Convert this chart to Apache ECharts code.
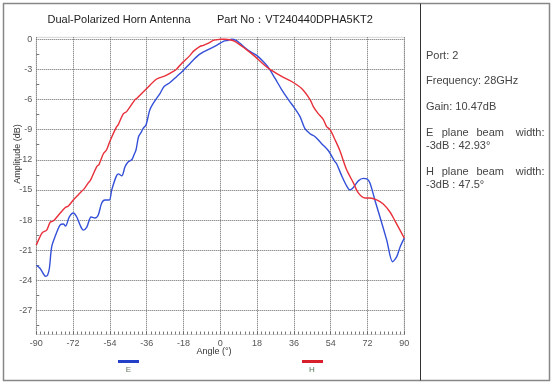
<!DOCTYPE html>
<html>
<head>
<meta charset="utf-8">
<script src="https://cdn.jsdelivr.net/npm/echarts@6/dist/echarts.min.js"></script>
<style>
html,body{margin:0;padding:0;background:#fff;}
#chart{width:554px;height:383px;}
</style>
</head>
<body>
<div id="chart"></div>
<script>
// ---- Data ----
const eAngles = [-90,-88.2,-86.7,-85.5,-84.5,-83.6,-82.5,-80.9,-78.4,-76.8,-75.7,-73.9,-71.9,-70.2,-68.6,-67.0,-65.3,-63.2,-61.3,-59.7,-58.0,-56.4,-54.3,-53.1,-51.0,-49.9,-48.2,-46.6,-45.0,-43.3,-42.2,-41.2,-40.0,-38.8,-37.8,-36.3,-34.4,-31.9,-29.5,-27.5,-24.6,-21.3,-18.1,-14.8,-10.8,-6.7,-1.8,1.5,3.8,5.6,7.7,9.6,13.7,17.8,21.0,23.5,26.8,30.0,33.3,36.5,39.0,41.4,43.9,46.4,49.6,52.9,55.8,56.9,59.4,61.8,63.4,65.1,67.5,69.9,71.7,73.2,75.6,78.1,81.4,84.3,86.3,87.9,90];
const eValues = [-22.5,-22.8,-23.3,-23.6,-23.5,-22.8,-20.7,-19.7,-18.5,-18.4,-18.6,-17.7,-17.3,-17.7,-18.5,-19.0,-18.7,-17.7,-17.8,-17.5,-16.3,-16.0,-16.0,-15.0,-13.7,-13.4,-13.6,-12.7,-12.2,-12.0,-11.5,-11.0,-9.7,-9.3,-8.9,-8.5,-7.0,-6.1,-5.4,-4.7,-4.3,-3.7,-3.1,-2.4,-1.6,-1.1,-0.6,-0.2,-0.1,0,-0.1,-0.4,-1.1,-1.6,-2.2,-2.8,-3.9,-5.0,-6.0,-6.9,-7.7,-8.9,-9.4,-9.7,-10.4,-11.1,-12.1,-12.4,-13.6,-14.6,-15.0,-14.75,-14.1,-13.85,-13.9,-14.3,-16.0,-17.7,-20.0,-22.15,-21.65,-20.7,-19.8];

const hAngles = [-90,-88.5,-87.0,-84.9,-83.2,-81.7,-78.7,-75.8,-74.3,-71.9,-68.6,-66.4,-64.6,-63.4,-60.5,-59.3,-57.2,-55.6,-53.9,-50.7,-49.9,-47.4,-45.8,-41.7,-40.9,-36.0,-31.1,-27.0,-23.0,-21.3,-18.9,-17.3,-14.8,-13.2,-9.9,-8.3,-5.0,-3.4,-1.8,0,2.3,4.7,7.1,12.0,16.9,21.8,25.1,30.0,34.9,39.8,43.9,45.5,47.9,50.4,52.0,53.7,56.1,58.5,61.8,65.1,67.5,70.8,73.2,76.5,79.7,83.0,85.5,87.9,90];
const hValues = [-20.5,-19.8,-19.25,-19.0,-18.2,-18.1,-17.4,-16.75,-16.6,-16.0,-15.3,-14.85,-14.3,-14.0,-12.7,-12.45,-11.4,-11.0,-10.1,-8.7,-8.5,-7.4,-7.2,-6.0,-5.9,-4.9,-3.95,-3.65,-3.2,-2.95,-2.4,-2.1,-1.6,-1.2,-0.7,-0.6,-0.3,-0.1,-0.05,0,0,-0.05,-0.2,-0.9,-1.7,-2.6,-3.1,-3.7,-4.2,-4.9,-6.0,-6.7,-7.4,-8.0,-8.7,-9.0,-10.0,-11.1,-13.0,-14.3,-15.3,-15.8,-15.8,-16.0,-16.4,-17.2,-18.1,-19.0,-19.8];

const yTickValues = [0,-3,-6,-9,-12,-15,-18,-21,-24,-27];
const yMinorTickValues = [-1.5,-4.5,-7.5,-10.5,-13.5,-16.5,-19.5,-22.5,-25.5,-28.5];

const seriesNames = ['E','H'];
const titleText = 'Dual-Polarized Horn Antenna';
const partText = 'Part No：VT240440DPHA5KT2';
const xAxisName = 'Angle (°)';
const yAxisName = 'Amplitude (dB)';
const infoPort = 'Port: 2';
const infoFreq = 'Frequency: 28GHz';
const infoGain = 'Gain: 10.47dB';
const infoEWords = ['E','plane','beam','width:'];
const infoEValue = '-3dB : 42.93°';
const infoHWords = ['H','plane','beam','width:'];
const infoHValue = '-3dB : 47.5°';

function pairs(xs, ys){ return xs.map((x,i)=>[x, ys[i]]); }

const FONT = '"Liberation Sans", Arial, sans-serif';
const chart = echarts.init(document.getElementById('chart'), null, {renderer:'canvas'});

function txt(text, x, y, opts){
  return {
    type:'text', x:x, y:y, silent:true,
    style:Object.assign({text:text, fill:'#333', font:'11px ' + FONT, textAlign:'left', textVerticalAlign:'middle'}, (opts||{}))
  };
}
function wordsLine(words, xs, y){
  return words.map((w,i)=>txt(w, xs[i], y, {fill:'#444', textAlign: i===words.length-1?'right':'left'}));
}

const gridLeft = 36.3, gridTop = 37.3, gridRight = 554-404.3, gridBottom = 383-334.5;

const option = {
  animation:false,
  backgroundColor:'#fff',
  grid:{left:gridLeft, top:gridTop, right:gridRight, bottom:gridBottom, show:true, borderColor:'#d4d4d4', borderWidth:1, containLabel:false},
  xAxis:{
    type:'value', min:-90, max:90, interval:18,
    axisLine:{show:false, onZero:false},
    axisTick:{show:true, inside:true, length:3, lineStyle:{color:'#666'}},
    minorTick:{show:true, splitNumber:9, length:3, lineStyle:{color:'#777'}},
    axisLabel:{fontSize:9, color:'#555', margin:5, fontFamily:FONT},
    splitLine:{show:true, lineStyle:{color:'#666', width:1, type:[1,1]}}
  },
  yAxis:[{
    type:'value', min:-29.4, max:0.2,
    axisLine:{show:false, onZero:false},
    axisTick:{show:false, customValues:yTickValues},
    axisLabel:{fontSize:9, color:'#555', margin:4, fontFamily:FONT, customValues:yTickValues},
    splitLine:{show:true, lineStyle:{color:'#666', width:1, type:[1,1]}}
  },{
    type:'value', min:-29.4, max:0.2, position:'left',
    axisLine:{show:false, onZero:false},
    axisTick:{show:true, inside:true, length:3, customValues:yMinorTickValues, lineStyle:{color:'#777'}},
    axisLabel:{show:false, customValues:yMinorTickValues},
    splitLine:{show:false}
  }],
  legend:[
    {data:['E'], left:118, top:360, padding:0, icon:'rect', itemWidth:21, itemHeight:3, formatter:function(){return '';}, textStyle:{fontSize:9}},
    {data:['H'], left:302, top:360, padding:0, icon:'rect', itemWidth:21, itemHeight:3, formatter:function(){return '';}, textStyle:{fontSize:9}}
  ],
  series:[
    {name:seriesNames[0], type:'line', data:pairs(eAngles,eValues), showSymbol:false, smooth:0.3, lineStyle:{color:'#3450d8', width:1.4}, itemStyle:{color:'#2340c8'}},
    {name:seriesNames[1], type:'line', data:pairs(hAngles,hValues), showSymbol:false, smooth:0.3, lineStyle:{color:'#e8303a', width:1.4}, itemStyle:{color:'#d8202c'}}
  ],
  graphic:[
    {type:'rect', silent:true, shape:{x:3.5, y:3.5, width:546, height:377}, style:{fill:'none', stroke:'#888', lineWidth:1.5}},
    {type:'line', silent:true, shape:{x1:420.5, y1:3.5, x2:420.5, y2:380.5}, style:{stroke:'#333', lineWidth:1}},
    txt(titleText, 47.5, 19.5, {fill:'#222'}),
    txt(partText, 217, 19.5, {fill:'#222'}),
    txt(infoPort, 426, 55.5, {fill:'#444'}),
    txt(infoFreq, 426, 81, {fill:'#444'}),
    txt(infoGain, 426, 107, {fill:'#444'}),
    ...wordsLine(infoEWords, [426, 441.7, 476.5, 544.5], 133),
    txt(infoEValue, 426, 145.5, {fill:'#444'}),
    ...wordsLine(infoHWords, [426, 441.7, 476.5, 544.5], 172),
    txt(infoHValue, 426, 184.5, {fill:'#444'}),
    txt(xAxisName, 214, 352, {fill:'#333', font:'9px ' + FONT, textAlign:'center'}),
    {type:'text', silent:true, x:18, y:154, rotation:Math.PI/2, style:{text:yAxisName, fill:'#333', font:'9px ' + FONT, textAlign:'center', textVerticalAlign:'middle'}},
    txt('E', 128.5, 370, {fill:'#667766', font:'8px ' + FONT, textAlign:'center'}),
    txt('H', 312, 370, {fill:'#557755', font:'8px ' + FONT, textAlign:'center'})
  ]
};
chart.setOption(option);
</script>
</body>
</html>
